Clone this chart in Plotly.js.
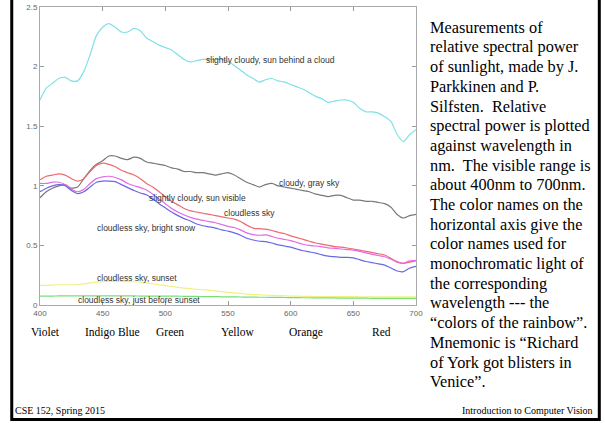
<!DOCTYPE html>
<html>
<head>
<meta charset="utf-8">
<script src="https://cdn.plot.ly/plotly-3.0.1.min.js"></script>
<style>
  html, body { margin: 0; padding: 0; background: #fff; }
  #chart { width: 605px; height: 423px; }
</style>
</head>
<body>
<div id="chart"></div>
<script>
// ---------------- DATA ----------------
var wavelengths = [400,405,410,415,420,425,430,435,440,445,450,455,460,465,470,475,480,485,490,495,
  500,505,510,515,520,525,530,535,540,545,550,555,560,565,570,575,580,585,590,595,
  600,605,610,615,620,625,630,635,640,645,650,655,660,665,670,675,680,685,690,695,700];

var sunBehindCloud = [1.72,1.82,1.86,1.90,1.91,1.88,1.88,1.96,2.10,2.26,2.33,2.36,2.33,2.29,2.29,2.32,2.30,2.24,2.21,2.18,
  2.16,2.14,2.10,2.06,2.04,2.05,2.06,2.06,2.06,2.06,2.04,2.01,1.97,1.93,1.90,1.87,1.89,1.90,1.88,1.87,
  1.85,1.83,1.81,1.78,1.75,1.73,1.70,1.71,1.72,1.72,1.70,1.65,1.62,1.62,1.61,1.58,1.54,1.43,1.37,1.43,1.47];

var cloudyGray = [0.90,0.95,0.98,1.00,1.01,0.98,0.99,1.06,1.13,1.18,1.21,1.25,1.25,1.23,1.22,1.24,1.23,1.20,1.19,1.18,
  1.17,1.15,1.14,1.12,1.12,1.11,1.11,1.10,1.09,1.10,1.11,1.09,1.06,1.03,1.01,0.99,1.01,1.02,1.00,0.99,
  0.98,0.97,0.96,0.95,0.93,0.92,0.91,0.92,0.92,0.90,0.88,0.88,0.87,0.87,0.86,0.85,0.82,0.76,0.73,0.75,0.76];

var sunVisible = [1.05,1.08,1.09,1.10,1.09,1.06,1.04,1.06,1.12,1.17,1.19,1.18,1.16,1.13,1.11,1.09,1.06,1.02,0.99,0.95,
  0.91,0.87,0.84,0.81,0.79,0.78,0.77,0.76,0.75,0.74,0.73,0.72,0.70,0.67,0.645,0.64,0.636,0.625,0.61,0.60,
  0.58,0.565,0.55,0.535,0.52,0.51,0.50,0.49,0.485,0.478,0.47,0.46,0.45,0.44,0.43,0.42,0.39,0.36,0.35,0.36,0.37];

var cloudless = [1.02,1.02,1.03,1.03,1.01,0.97,0.95,0.97,1.02,1.06,1.075,1.08,1.07,1.05,1.02,1.00,0.985,0.965,0.93,0.89,
  0.85,0.81,0.78,0.755,0.735,0.72,0.71,0.70,0.69,0.675,0.66,0.65,0.63,0.605,0.59,0.585,0.588,0.575,0.56,0.55,
  0.54,0.525,0.51,0.50,0.495,0.488,0.48,0.475,0.47,0.465,0.46,0.45,0.437,0.425,0.415,0.405,0.385,0.364,0.35,0.37,0.375];

var brightSnow = [0.95,0.98,1.00,1.01,1.00,0.96,0.935,0.95,0.99,1.03,1.04,1.04,1.035,1.01,0.985,0.96,0.94,0.925,0.89,0.85,
  0.815,0.78,0.75,0.725,0.705,0.68,0.665,0.655,0.645,0.63,0.62,0.605,0.585,0.56,0.545,0.535,0.532,0.52,0.505,0.495,
  0.485,0.47,0.455,0.445,0.435,0.42,0.41,0.405,0.40,0.40,0.395,0.38,0.365,0.355,0.345,0.335,0.31,0.285,0.28,0.31,0.325];

var sunset = [0.165,0.165,0.168,0.17,0.17,0.17,0.172,0.178,0.185,0.192,0.196,0.198,0.198,0.197,0.196,0.195,0.192,0.185,0.178,0.17,
  0.163,0.155,0.148,0.142,0.137,0.132,0.128,0.124,0.118,0.112,0.106,0.102,0.097,0.092,0.088,0.085,0.083,0.081,0.079,0.077,
  0.075,0.074,0.073,0.072,0.071,0.071,0.070,0.070,0.070,0.070,0.070,0.069,0.069,0.069,0.069,0.069,0.068,0.068,0.068,0.068,0.068];

var beforeSunset = [0.075,0.075,0.075,0.076,0.076,0.076,0.076,0.076,0.076,0.076,0.076,0.076,0.076,0.076,0.076,0.076,0.075,0.075,0.075,0.075,
  0.075,0.074,0.074,0.073,0.073,0.072,0.071,0.070,0.070,0.069,0.068,0.068,0.067,0.066,0.066,0.065,0.065,0.064,0.064,0.063,
  0.062,0.062,0.061,0.061,0.060,0.060,0.059,0.059,0.058,0.058,0.057,0.057,0.057,0.056,0.056,0.056,0.056,0.055,0.055,0.055,0.055];

var seriesNames = ["slightly cloudy, sun behind a cloud", "cloudy, gray sky", "slightly cloudy, sun visible",
  "cloudless sky", "cloudless sky, bright snow", "cloudless sky, sunset", "cloudless sky, just before sunset"];

var colorNames = ["Violet", "Indigo Blue", "Green", "Yellow", "Orange", "Red"];

var captionLines = [
  "Measurements of",
  "relative spectral power",
  "of sunlight, made by J.",
  "Parkkinen and P.",
  "Silfsten.  Relative",
  "spectral power is plotted",
  "against wavelength in",
  "nm.  The visible range is",
  "about 400nm to 700nm.",
  "The color names on the",
  "horizontal axis give the",
  "color names used for",
  "monochromatic light of",
  "the corresponding",
  "wavelength --- the",
  "\u201Ccolors of the rainbow\u201D.",
  "Mnemonic is \u201CRichard",
  "of York got blisters in",
  "Venice\u201D."
];

var footerLeft = "CSE 152, Spring 2015";
var footerRight = "Introduction to Computer Vision";

// ---------------- LAYOUT HELPERS ----------------
var M = {l: 40, r: 189, t: 7, b: 118};
var W = 605 - M.l - M.r, H = 423 - M.t - M.b;
function px(xPix) { return (xPix - M.l) / W; }
function py(yPix) { return (M.t + H - yPix) / H; }

var seriesValues = [sunBehindCloud, cloudyGray, sunVisible, cloudless, brightSnow, sunset, beforeSunset];
var seriesColors = ["rgb(125,225,232)", "rgb(120,120,120)", "rgb(238,105,110)", "rgb(230,105,230)",
  "rgb(105,105,232)", "rgb(240,240,130)", "rgb(120,222,120)"];

var traces = seriesValues.map(function (vals, i) {
  return {
    x: wavelengths, y: vals, type: "scatter", mode: "lines", name: seriesNames[i],
    line: {color: seriesColors[i], width: 1.2, shape: "spline", smoothing: 0.6},
    hoverinfo: "skip"
  };
});

// series label positions (data coords)
var labelPos = [[584, 2.055], [615, 1.023], [526, 0.90], [567, 0.772], [485, 0.646], [477, 0.226], [479, 0.044]];
var annotations = seriesNames.map(function (t, i) {
  return {
    text: t, x: labelPos[i][0], y: labelPos[i][1], xref: "x", yref: "y",
    showarrow: false, xanchor: "center", yanchor: "middle",
    font: {family: "Liberation Sans, Arial, sans-serif", size: 8.5, color: "#333"}
  };
});

var colorNameX = [45, 112, 170, 237, 306, 381];
colorNames.forEach(function (t, i) {
  annotations.push({
    text: t, x: px(colorNameX[i]), y: py(332), xref: "paper", yref: "paper",
    showarrow: false, xanchor: "center", yanchor: "middle",
    font: {family: "Liberation Serif, Times New Roman, serif", size: 11.5, color: "#000"}
  });
});

captionLines.forEach(function (t, i) {
  annotations.push({
    text: t, x: px(428), y: py(27.3 + 19.69 * i), xref: "paper", yref: "paper",
    showarrow: false, xanchor: "left", yanchor: "middle",
    font: {family: "Liberation Serif, Times New Roman, serif", size: 16.3, color: "#000"}
  });
});

annotations.push({
  text: footerLeft, x: px(13), y: py(410), xref: "paper", yref: "paper",
  showarrow: false, xanchor: "left", yanchor: "middle",
  font: {family: "Liberation Serif, Times New Roman, serif", size: 10, color: "#000"}
});
annotations.push({
  text: footerRight, x: px(595), y: py(410), xref: "paper", yref: "paper",
  showarrow: false, xanchor: "right", yanchor: "middle",
  font: {family: "Liberation Serif, Times New Roman, serif", size: 10, color: "#000"}
});

var shapes = [{
  type: "rect", xref: "paper", yref: "paper",
  x0: px(11.75), x1: px(599.3), y0: py(419.6), y1: py(-6),
  line: {color: "#000", width: 3}, fillcolor: "rgba(0,0,0,0)", layer: "above"
}];

var axisCommon = {
  showgrid: false, zeroline: false, showline: true, linecolor: "#aaa", linewidth: 1,
  mirror: "ticks", ticks: "inside", ticklen: 4, tickcolor: "#999", tickwidth: 1,
  tickfont: {family: "Liberation Sans, Arial, sans-serif", size: 8, color: "#666"}
};

var layout = {
  width: 605, height: 423, margin: M,
  paper_bgcolor: "#fff", plot_bgcolor: "#fff",
  showlegend: false,
  xaxis: Object.assign({}, axisCommon, {range: [400, 700], dtick: 50, tick0: 400}),
  yaxis: Object.assign({}, axisCommon, {range: [0, 2.5], dtick: 0.5, tick0: 0}),
  annotations: annotations,
  shapes: shapes
};

Plotly.newPlot("chart", traces, layout, {staticPlot: true, displayModeBar: false});
</script>
</body>
</html>
